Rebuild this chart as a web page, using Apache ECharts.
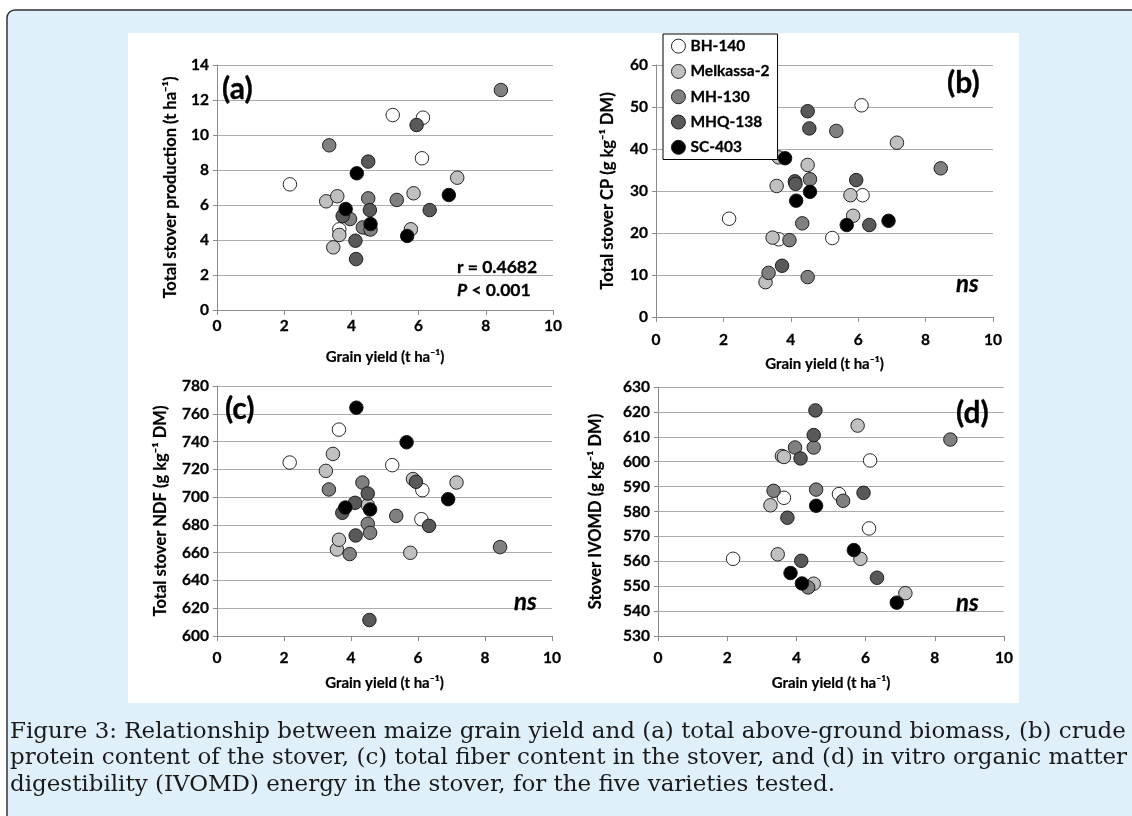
<!DOCTYPE html>
<html><head><meta charset="utf-8">
<script src="https://cdn.jsdelivr.net/npm/echarts@6/dist/echarts.min.js"></script>
<style>html,body{margin:0;padding:0;background:#fff;}#c{width:1132px;height:816px;}</style>
</head><body><div id="c"></div>
<script>
// ---------- data ----------
const varieties = ['BH-140', 'Melkassa-2', 'MH-130', 'MHQ-138', 'SC-403'];
const varietyColors = ['#ffffff', '#c0c0c0', '#808080', '#595959', '#000000'];

const grainYield = [
  [2.17, 3.64, 5.23, 6.10, 6.13],
  [3.25, 3.46, 3.58, 3.64, 4.50, 5.77, 5.85, 7.15],
  [3.34, 3.96, 4.34, 4.50, 4.57, 5.35, 8.45],
  [3.74, 4.12, 4.14, 4.50, 4.55, 5.94, 6.33],
  [3.83, 4.16, 4.57, 5.66, 6.90]
];
const stoverProd = [
  [7.18, 4.61, 11.14, 8.67, 10.99],
  [6.21, 3.58, 6.50, 4.29, 4.65, 4.61, 6.67, 7.56],
  [9.41, 5.20, 4.72, 6.38, 4.60, 6.29, 12.57],
  [5.37, 3.96, 2.91, 8.48, 5.71, 10.57, 5.71],
  [5.77, 7.81, 4.91, 4.23, 6.57]
];
const stoverCP = [
  [23.4, 18.5, 18.8, 50.4, 29.0],
  [8.3, 18.9, 31.2, 38.0, 36.2, 29.0, 24.1, 41.5],
  [10.5, 18.3, 22.3, 9.5, 32.8, 44.3, 35.4],
  [12.2, 32.3, 31.7, 49.0, 44.9, 32.6, 21.9],
  [37.8, 27.7, 29.8, 21.9, 22.9]
];
const stoverNDF = [
  [724.9, 748.6, 723.0, 684.1, 705.0],
  [718.9, 731.1, 662.3, 669.3, 694.2, 659.9, 713.0, 710.5],
  [705.5, 659.0, 710.5, 680.8, 674.3, 686.5, 664.0],
  [688.7, 695.9, 672.4, 702.6, 611.5, 711.0, 679.3],
  [692.5, 764.4, 691.1, 739.5, 698.5]
];
const stoverIVOMD = [
  [561.0, 585.5, 587.0, 573.2, 600.5],
  [582.5, 562.8, 602.3, 601.9, 551.0, 614.5, 561.0, 547.2],
  [588.3, 605.7, 549.5, 605.7, 588.8, 584.3, 608.9],
  [577.5, 601.3, 560.2, 610.7, 620.6, 587.5, 553.4],
  [555.3, 551.1, 582.3, 564.5, 543.4]
];

// axis ranges [min, max, interval]
const yieldAxis = [0, 10, 2];
const prodAxis = [0, 14, 2];
const cpAxis = [0, 60, 10];
const ndfAxis = [600, 780, 20];
const ivomdAxis = [530, 630, 10];

const xTitle = 'Grain yield (t ha\u207B\u00B9)';
const yTitles = [
  'Total stover production (t ha\u207B\u00B9)',
  'Total stover CP (g kg\u207B\u00B9 DM)',
  'Total stover NDF (g kg\u207B\u00B9 DM)',
  'Stover IVOMD (g kg\u207B\u00B9 DM)'
];
const panelLabels = ['(a)', '(b)', '(c)', '(d)'];
const statR = 'r = 0.4682';
const statP = 'P';
const statPRest = ' < 0.001';
const nsLabel = 'ns';
const captionLines = [
  'Figure 3: Relationship between maize grain yield and (a) total above-ground biomass, (b) crude',
  'protein content of the stover, (c) total fiber content in the stover, and (d) in vitro organic matter',
  'digestibility (IVOMD) energy in the stover, for the five varieties tested.'
];

// ---------- layout ----------
const FONT = 'Lato';
const panelValues = [stoverProd, stoverCP, stoverNDF, stoverIVOMD];
const panelAxes = [prodAxis, cpAxis, ndfAxis, ivomdAxis];
const grids = [
  {left: 217, top: 65, width: 336, height: 245},
  {left: 656, top: 65, width: 337, height: 252},
  {left: 217, top: 386, width: 335, height: 250},
  {left: 658, top: 387, width: 346, height: 249}
];
const xLabelMargin = [8, 15, 14, 14];
const xNameGap = [40, 40, 40, 40];
const yNameGap = [38, 40, 48, 54];

const axisColor = '#8c8c8c';
const gridColor = '#acacac';
const labelStyle = {fontFamily: FONT, fontWeight: 'bold', fontSize: 15.5, color: '#000',
  textBorderColor: '#000', textBorderWidth: 0.3};
const nameStyleX = {fontFamily: FONT, fontWeight: 'bold', fontSize: 15, color: '#000',
  textBorderColor: '#000', textBorderWidth: 0.2};
const nameStyleY = {fontFamily: FONT, fontWeight: 'bold', fontSize: 16.5, color: '#000',
  textBorderColor: '#000', textBorderWidth: 0.2};

const xAxes = grids.map((g, i) => ({
  type: 'value', gridIndex: i,
  min: yieldAxis[0], max: yieldAxis[1], interval: yieldAxis[2],
  axisLine: {show: true, onZero: false, lineStyle: {color: axisColor, width: 1}},
  axisTick: {show: true, length: 5, lineStyle: {color: axisColor}},
  splitLine: {show: false},
  axisLabel: Object.assign({margin: xLabelMargin[i]}, labelStyle),
  name: xTitle, nameLocation: 'middle', nameGap: xNameGap[i],
  nameTextStyle: nameStyleX
}));
const yAxes = grids.map((g, i) => ({
  type: 'value', gridIndex: i,
  min: panelAxes[i][0], max: panelAxes[i][1], interval: panelAxes[i][2],
  axisLine: {show: true, onZero: false, lineStyle: {color: axisColor, width: 1}},
  axisTick: {show: true, length: 4, lineStyle: {color: axisColor}},
  splitLine: {show: true, lineStyle: {color: gridColor, width: 1}},
  axisLabel: Object.assign({margin: 8}, labelStyle),
  name: yTitles[i], nameLocation: 'middle', nameGap: yNameGap[i], nameRotate: 90,
  nameTextStyle: nameStyleY
}));

const series = [];
for (let p = 0; p < 4; p++) {
  for (let v = 0; v < varieties.length; v++) {
    series.push({
      type: 'scatter', name: varieties[v], xAxisIndex: p, yAxisIndex: p,
      data: grainYield[v].map((x, k) => [x, panelValues[p][v][k]]),
      symbol: 'circle', symbolSize: 13.5,
      itemStyle: {color: varietyColors[v], borderColor: '#111', borderWidth: 0.9, opacity: 1},
      emphasis: {disabled: true}, silent: true
    });
  }
}

// caption font size fitted to line width
const cv = document.createElement('canvas').getContext('2d');
cv.font = '100px "DejaVu Serif"';
const capSize = 100 * 1116 / cv.measureText(captionLines[0]).width;

const txt = (t, x, y, size, extra) => ({
  type: 'text', z: 50,
  style: Object.assign({text: t, x: x, y: y, fontFamily: FONT, fontWeight: 'bold', fontSize: size,
    fill: '#000', stroke: '#000', lineWidth: 0.3, verticalAlign: 'middle', align: 'left'}, extra || {})
});

const graphics = [
  {type: 'rect', z: -10, shape: {x: 7, y: 10, width: 1140, height: 830, r: 8},
    style: {fill: '#dff0fb', stroke: '#333', lineWidth: 1.5}},
  {type: 'rect', z: -9, shape: {x: 128, y: 33, width: 891, height: 670},
    style: {fill: '#ffffff'}},
  txt(panelLabels[0], 222, 89, 30),
  txt(panelLabels[1], 947, 83, 30),
  txt(panelLabels[2], 225, 409, 30),
  txt(panelLabels[3], 956, 413, 30),
  txt(statR, 457, 267, 17.5),
  {type: 'text', z: 50, style: {text: '{i|' + statP + '}' + statPRest, x: 457, y: 290,
    fontFamily: FONT, fontWeight: 'bold', fontSize: 17.5, fill: '#000', stroke: '#000', lineWidth: 0.3,
    verticalAlign: 'middle',
    rich: {i: {fontFamily: FONT, fontWeight: 'bold', fontStyle: 'italic', fontSize: 17.5, fill: '#000'}}}},
  txt(nsLabel, 956, 284, 24, {fontStyle: 'italic'}),
  txt(nsLabel, 514, 602, 24, {fontStyle: 'italic'}),
  txt(nsLabel, 956, 603, 24, {fontStyle: 'italic'})
];
captionLines.forEach((l, i) => {
  graphics.push({type: 'text', z: 50, style: {text: l, x: 10, y: 732 + i * 26.5,
    fontFamily: 'DejaVu Serif', fontSize: capSize, fill: '#1a1a1a', verticalAlign: 'middle', align: 'left'}});
});

const chart = echarts.init(document.getElementById('c'), null, {renderer: 'canvas'});
chart.setOption({
  animation: false,
  backgroundColor: '#ffffff',
  grid: grids.map(g => Object.assign({containLabel: false, outerBoundsMode: 'none'}, g)),
  xAxis: xAxes,
  yAxis: yAxes,
  legend: {
    data: varieties, left: 663, top: 34, orient: 'vertical',
    padding: [4, 8, 4, 8], itemGap: 9, itemWidth: 14, itemHeight: 14, icon: 'circle',
    borderColor: '#000', borderWidth: 1, backgroundColor: '#fff', borderRadius: 0,
    selectedMode: false,
    textStyle: {fontFamily: FONT, fontWeight: 'bold', fontSize: 15.5, color: '#000',
      textBorderColor: '#000', textBorderWidth: 0.3},
    itemStyle: {borderColor: '#111', borderWidth: 0.9}
  },
  graphic: graphics,
  series: series
});
</script></body></html>
